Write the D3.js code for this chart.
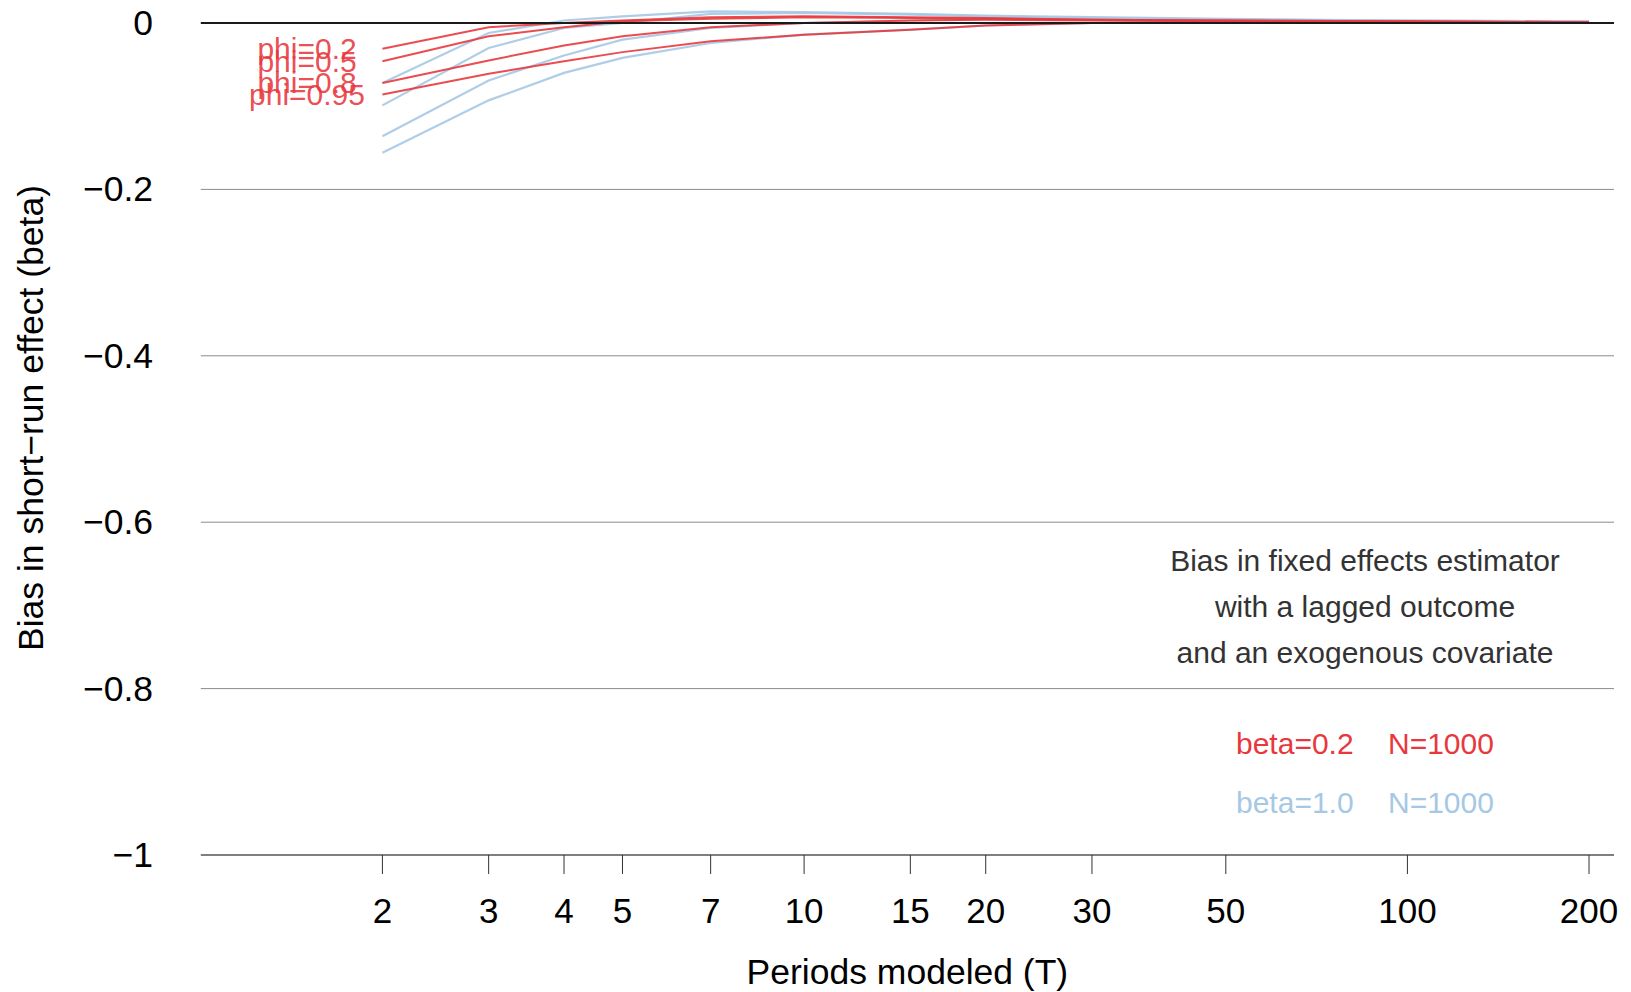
<!DOCTYPE html>
<html>
<head>
<meta charset="utf-8">
<script src="https://cdn.jsdelivr.net/npm/d3@7"></script>
<style>
  body { margin: 0; background: #fff; }
  svg { display: block; font-family: "Liberation Sans", Arial, Helvetica, sans-serif; }
</style>
</head>
<body>
<svg id="chart" width="1631" height="992"></svg>
<script>
// ---- data ----
const periods = [2, 3, 4, 5, 7, 10, 15, 20, 30, 50, 100, 200];
const phiLabels = ["phi=0.2", "phi=0.5", "phi=0.8", "phi=0.95"];

// beta = 0.2, N = 1000 (red)
const redPhi02  = [-0.031, -0.005, 0.000, 0.003, 0.007, 0.008, 0.007, 0.006, 0.004, 0.003, 0.002, 0.001];
const redPhi05  = [-0.046, -0.016, -0.005, 0.002, 0.005, 0.007, 0.006, 0.005, 0.004, 0.003, 0.002, 0.001];
const redPhi08  = [-0.072, -0.045, -0.027, -0.016, -0.005, 0.000, 0.003, 0.004, 0.003, 0.002, 0.001, 0.001];
const redPhi095 = [-0.086, -0.061, -0.046, -0.035, -0.022, -0.014, -0.008, -0.003, 0.000, 0.001, 0.001, 0.000];

// beta = 1.0, N = 1000 (blue)
const bluePhi02  = [-0.072, -0.012, 0.003, 0.008, 0.014, 0.013, 0.011, 0.009, 0.007, 0.005, 0.003, 0.002];
const bluePhi05  = [-0.099, -0.030, -0.006, 0.000, 0.011, 0.012, 0.010, 0.008, 0.006, 0.004, 0.003, 0.002];
const bluePhi08  = [-0.136, -0.069, -0.039, -0.020, -0.006, 0.000, 0.003, 0.005, 0.004, 0.003, 0.002, 0.001];
const bluePhi095 = [-0.156, -0.093, -0.060, -0.042, -0.024, -0.014, -0.008, -0.003, 0.000, 0.002, 0.002, 0.001];

const xTicks = [2, 3, 4, 5, 7, 10, 15, 20, 30, 50, 100, 200];
const xTickLabels = ["2", "3", "4", "5", "7", "10", "15", "20", "30", "50", "100", "200"];
const yTicks = [0, -0.2, -0.4, -0.6, -0.8, -1];
const yTickLabels = ["0", "\u22120.2", "\u22120.4", "\u22120.6", "\u22120.8", "\u22121"];

const annotationLines = ["Bias in fixed effects estimator", "with a lagged outcome", "and an exogenous covariate"];
const legendRows = [["beta=0.2", "N=1000"], ["beta=1.0", "N=1000"]];

// ---- styles ----
const RED = "#e8383d";
const BLUE = "#a6c8e4";

const svg = d3.select("#chart");
const x = d3.scaleLog().domain([1, 220]).range([200.8, 1614]);
const y = d3.scaleLinear().domain([-1, 0]).range([855, 23]);

// gridlines
svg.append("g").selectAll("line")
  .data(yTicks.filter(v => v !== 0 && v !== -1))
  .join("line")
  .attr("x1", x.range()[0]).attr("x2", x.range()[1])
  .attr("y1", d => y(d)).attr("y2", d => y(d))
  .attr("stroke", "#8a8a8a").attr("stroke-width", 1);

// bottom axis line
svg.append("line")
  .attr("x1", x.range()[0]).attr("x2", x.range()[1])
  .attr("y1", y(-1)).attr("y2", y(-1))
  .attr("stroke", "#555").attr("stroke-width", 1.3);

// y tick labels
svg.append("g").selectAll("text")
  .data(yTicks)
  .join("text")
  .attr("x", 153).attr("y", d => y(d))
  .attr("text-anchor", "end").attr("dominant-baseline", "central")
  .attr("font-size", 35.5).attr("fill", "#000")
  .text((d, i) => yTickLabels[i]);

// x ticks
const xg = svg.append("g");
xg.selectAll("line")
  .data(xTicks)
  .join("line")
  .attr("x1", d => x(d)).attr("x2", d => x(d))
  .attr("y1", y(-1)).attr("y2", y(-1) + 19)
  .attr("stroke", "#333").attr("stroke-width", 1);
xg.selectAll("text")
  .data(xTicks)
  .join("text")
  .attr("x", d => x(d)).attr("y", 910)
  .attr("text-anchor", "middle").attr("dominant-baseline", "central")
  .attr("font-size", 35).attr("fill", "#000")
  .text((d, i) => xTickLabels[i]);

// axis titles
svg.append("text")
  .attr("x", (x.range()[0] + x.range()[1]) / 2).attr("y", 972)
  .attr("text-anchor", "middle").attr("dominant-baseline", "central")
  .attr("font-size", 35.5).attr("fill", "#000")
  .text("Periods modeled (T)");
svg.append("text")
  .attr("transform", "translate(31,418) rotate(-90)")
  .attr("text-anchor", "middle").attr("dominant-baseline", "central")
  .attr("font-size", 35.5).attr("fill", "#000")
  .text("Bias in short\u2212run effect (beta)");

// series lines
const line = d3.line().x((d, i) => x(periods[i])).y(d => y(d));
const blueSeries = [bluePhi02, bluePhi05, bluePhi08, bluePhi095];
const redSeries = [redPhi02, redPhi05, redPhi08, redPhi095];

svg.append("g").selectAll("path")
  .data(blueSeries)
  .join("path")
  .attr("d", line)
  .attr("fill", "none").attr("stroke", BLUE).attr("stroke-width", 2.2)
  .attr("stroke-opacity", 0.9);
svg.append("g").selectAll("path")
  .data(redSeries)
  .join("path")
  .attr("d", line)
  .attr("fill", "none").attr("stroke", RED).attr("stroke-width", 2)
  .attr("stroke-opacity", 0.9);

// zero line
svg.append("line")
  .attr("x1", x.range()[0]).attr("x2", x.range()[1])
  .attr("y1", y(0)).attr("y2", y(0))
  .attr("stroke", "#1a1a1a").attr("stroke-width", 2);

// phi labels
svg.append("g").selectAll("text")
  .data(redSeries)
  .join("text")
  .attr("x", x(1.5)).attr("y", d => y(d[0]))
  .attr("text-anchor", "middle").attr("dominant-baseline", "central")
  .attr("font-size", 30).attr("fill", RED).attr("fill-opacity", 0.9)
  .text((d, i) => phiLabels[i]);

// annotation
svg.append("g").selectAll("text")
  .data(annotationLines)
  .join("text")
  .attr("x", 1365).attr("y", (d, i) => 560 + i * 46)
  .attr("text-anchor", "middle").attr("dominant-baseline", "central")
  .attr("font-size", 30).attr("fill", "#333")
  .text(d => d);

// legend
const legColors = [RED, BLUE];
legendRows.forEach((row, r) => {
  svg.append("text")
    .attr("x", 1236).attr("y", 743 + r * 59)
    .attr("dominant-baseline", "central")
    .attr("font-size", 30).attr("fill", legColors[r])
    .text(row[0]);
  svg.append("text")
    .attr("x", 1388).attr("y", 743 + r * 59)
    .attr("dominant-baseline", "central")
    .attr("font-size", 30).attr("fill", legColors[r])
    .text(row[1]);
});
</script>
</body>
</html>
